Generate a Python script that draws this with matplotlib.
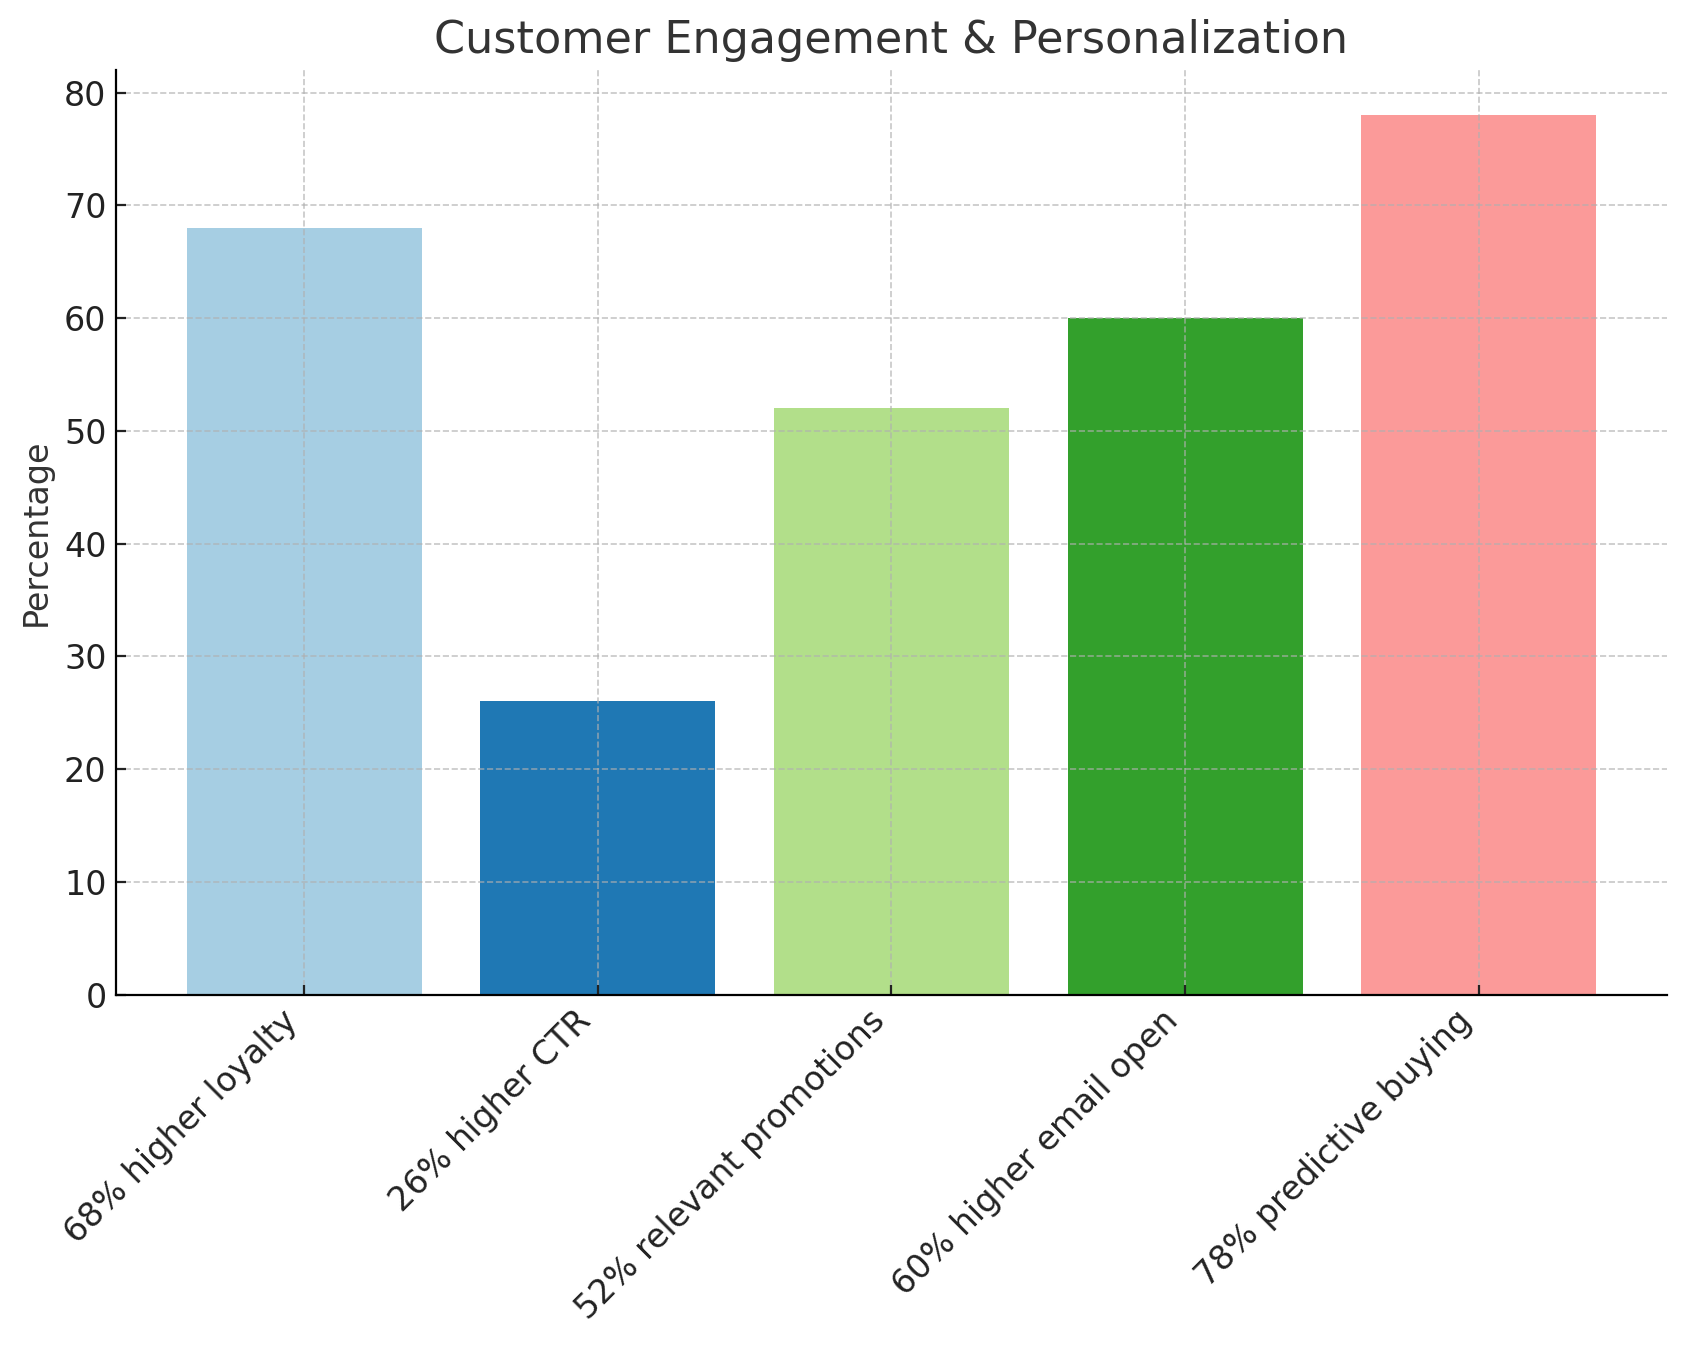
import matplotlib.pyplot as plt

categories = ['68% higher loyalty', '26% higher CTR', '52% relevant promotions',
              '60% higher email open', '78% predictive buying']
values = [68, 26, 52, 60, 78]
colors = ['#a6cee3', '#1f78b4', '#b2df8a', '#33a02c', '#fb9a99']

plt.rcParams['font.family'] = ['DejaVu Sans']
fig, ax = plt.subplots(figsize=(8.43, 6.73), dpi=200)

ax.bar(categories, values, color=colors, zorder=1)
ax.grid(True, linestyle='--', color='#b0b0b0', alpha=0.7, linewidth=0.6, zorder=2)
ax.set_axisbelow(False)

ax.set_title('Customer Engagement & Personalization', fontsize=16, color='#333333')
ax.set_ylabel('Percentage', fontsize=12, color='#333333')
ax.tick_params(labelsize=12, colors='#222222', direction='in')
plt.xticks(rotation=45, ha='right')
ax.spines['top'].set_visible(False)
ax.spines['right'].set_visible(False)
ax.spines['bottom'].set_zorder(3)
ax.spines['left'].set_zorder(3)
ax.set_ylim(0, 82)

plt.subplots_adjust(left=0.069, right=0.9885, top=0.948, bottom=0.261)
plt.savefig('out.png', dpi=200)
